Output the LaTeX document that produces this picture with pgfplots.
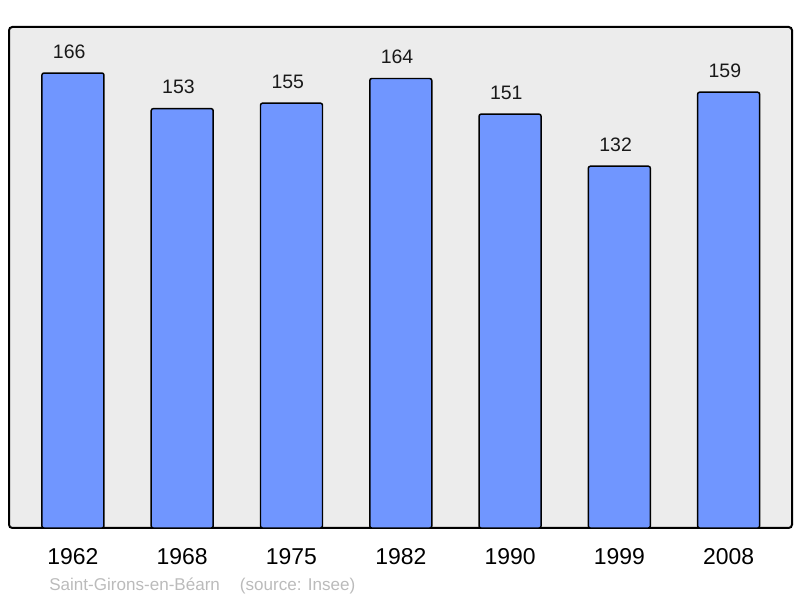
\documentclass[border=0pt]{standalone}
\usepackage{pgfplots}
\pgfplotsset{compat=1.18}
\usepackage{fontspec}
\setmainfont{Liberation Sans}
\definecolor{bgGray}{HTML}{ECECEC}
\definecolor{barBlue}{HTML}{7096FF}
\definecolor{srcGray}{HTML}{BBBBBB}

\begin{document}
\begin{tikzpicture}[x=0.75pt, y=0.75pt]
  % page = 800 x 598 px, 1 px = 0.75 pt
  \path[use as bounding box] (0,0) rectangle (800,598);
  \begin{axis}[
      at={(6.75pt,52.5pt)}, anchor=south west,
      scale only axis,
      width=587.25pt, height=375.75pt,
      xmin=-0.585, xmax=6.58,
      ymin=0, ymax=182.8,
      axis line style={draw=none},
      axis background/.style={fill=bgGray, draw=black, line width=1.5pt, rounded corners=2.5pt},
      ytick=\empty,
      xtick=data,
      xticklabels={1962,1968,1975,1982,1990,1999,2008},
      major tick length=0pt,
      xticklabel style={font=\fontsize{17.2pt}{20pt}\selectfont, anchor=north, inner sep=0pt, yshift=-15pt},
      /pgf/number format/assume math mode=true,
      ybar, bar width=46.5pt,
      nodes near coords,
      every node near coord/.append style={font=\fontsize{14.6pt}{17pt}\selectfont, anchor=south, inner sep=0pt, yshift=10.5pt, xshift=-2.8pt, black!90},
      clip=false,
    ]
    \addplot[fill=barBlue, draw=black, line width=1.1pt, rounded corners=1.5pt]
      coordinates {(0,166) (1,153) (2,155) (3,164) (4,151) (5,132) (6,159)};
  \end{axis}
  \node[anchor=base west, inner sep=0pt, text=srcGray, font=\fontsize{12.8pt}{15pt}\selectfont]
    at (49,7) {Saint-Girons-en-Béarn\hspace{15pt}(source: Insee)};
\end{tikzpicture}
\end{document}
